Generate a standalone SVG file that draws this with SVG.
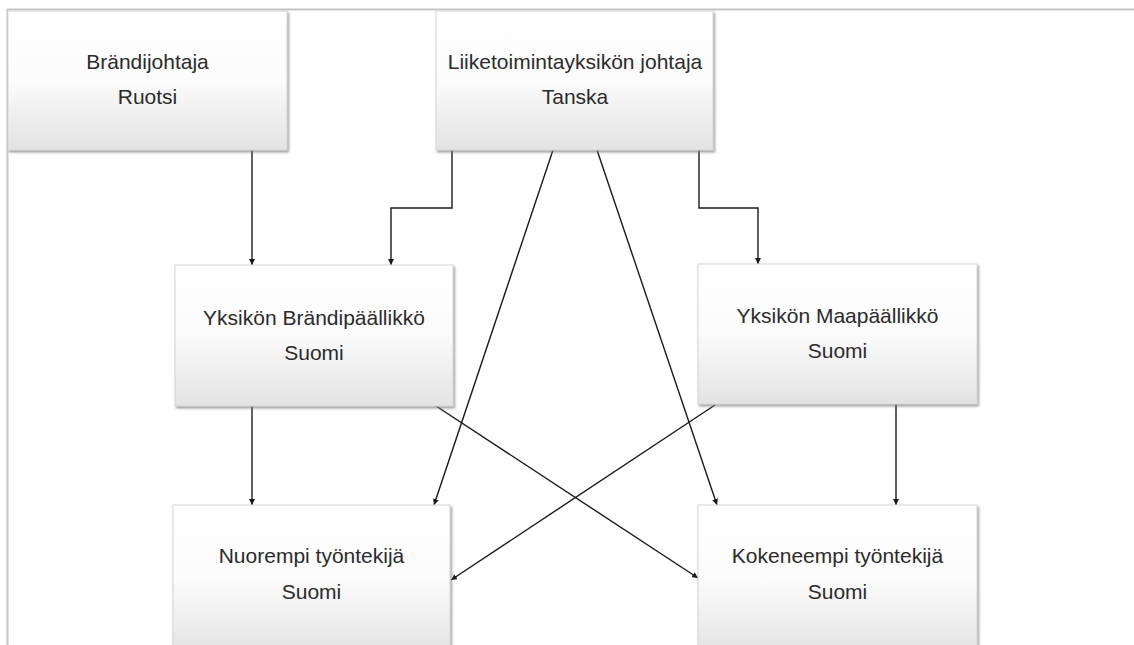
<svg xmlns="http://www.w3.org/2000/svg" width="1134" height="645" viewBox="0 0 1134 645">
  <style>
    .box { fill: url(#boxGrad); stroke: #d6d6d6; stroke-width: 1; filter: url(#shadow); }
    .lbl { font-family: "Liberation Sans", Arial, sans-serif; font-size: 21px; fill: #2b2b2b; text-anchor: middle; }
    .conn { fill: none; stroke: #1a1a1a; stroke-width: 1.4; marker-end: url(#arrow); }
    .frame { fill: none; stroke: #c4c4c4; stroke-width: 2; }
  </style>
  <defs>
    <linearGradient id="boxGrad" x1="0" y1="0" x2="0" y2="1">
      <stop offset="0" stop-color="#ffffff"/>
      <stop offset="0.5" stop-color="#fbfbfb"/>
      <stop offset="1" stop-color="#e3e3e3"/>
    </linearGradient>
    <filter id="shadow" x="-5%" y="-5%" width="112%" height="115%">
      <feDropShadow dx="1.5" dy="2" stdDeviation="1" flood-color="#7a7a7a" flood-opacity="0.7"/>
    </filter>
    <marker id="arrow" viewBox="0 0 10 10" refX="10" refY="5" markerWidth="6" markerHeight="6" markerUnits="userSpaceOnUse" orient="auto">
      <path d="M0,0 L10,5 L0,10 Z" fill="#1a1a1a"/>
    </marker>
  </defs>

  <path class="frame" d="M7.5,645 L7.5,9.5 L1134,9.5"/>

  <g id="connectors">
    <path class="conn" d="M252,150 L252,265"/>
    <path class="conn" d="M452,150 L452,208 L391,208 L391,265"/>
    <path class="conn" d="M699,150 L699,208 L758,208 L758,264"/>
    <path class="conn" d="M553,150 L434,505"/>
    <path class="conn" d="M597,150 L717,505"/>
    <path class="conn" d="M252,406 L252,505"/>
    <path class="conn" d="M436,406 L698,578"/>
    <path class="conn" d="M715,405 L451,580"/>
    <path class="conn" d="M896,404 L896,505"/>
  </g>

  <g id="n-brandijohtaja">
    <rect class="box" x="8" y="11" width="279" height="139"/>
    <text class="lbl" x="147.5" y="69">Brändijohtaja</text>
    <text class="lbl" x="147.5" y="104">Ruotsi</text>
  </g>

  <g id="n-liiketoimintayksikon-johtaja">
    <rect class="box" x="436" y="11" width="277" height="139"/>
    <text class="lbl" x="575" y="69">Liiketoimintayksikön johtaja</text>
    <text class="lbl" x="575" y="104">Tanska</text>
  </g>

  <g id="n-brandipaallikko">
    <rect class="box" x="175" y="265" width="278" height="141"/>
    <text class="lbl" x="314" y="325">Yksikön Brändipäällikkö</text>
    <text class="lbl" x="314" y="360">Suomi</text>
  </g>

  <g id="n-maapaallikko">
    <rect class="box" x="698" y="264" width="279" height="140"/>
    <text class="lbl" x="837.5" y="323">Yksikön Maapäällikkö</text>
    <text class="lbl" x="837.5" y="358">Suomi</text>
  </g>

  <g id="n-nuorempi">
    <rect class="box" x="173" y="505" width="277" height="150"/>
    <text class="lbl" x="311.5" y="563">Nuorempi työntekijä</text>
    <text class="lbl" x="311.5" y="599">Suomi</text>
  </g>

  <g id="n-kokeneempi">
    <rect class="box" x="698" y="505" width="279" height="150"/>
    <text class="lbl" x="837.5" y="563">Kokeneempi työntekijä</text>
    <text class="lbl" x="837.5" y="599">Suomi</text>
  </g>
</svg>
